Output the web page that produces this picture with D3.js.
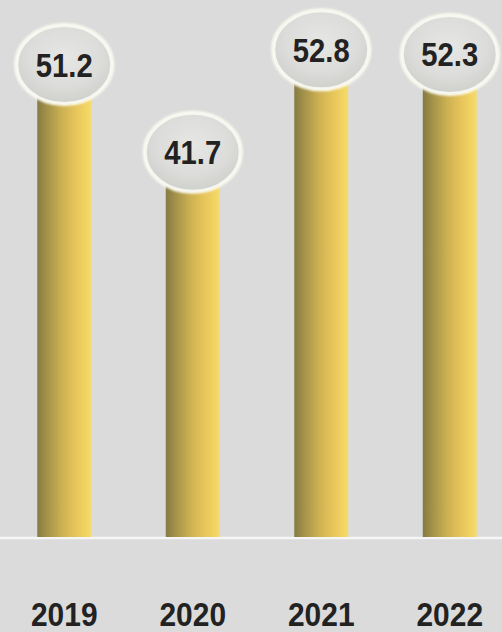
<!DOCTYPE html>
<html>
<head>
<meta charset="utf-8">
<script src="https://cdn.jsdelivr.net/npm/d3@7"></script>
<style>
html,body{margin:0;padding:0;background:#dbdbdb;}
svg{display:block;}
</style>
</head>
<body>
<svg id="chart" width="502" height="632"></svg>
<script>
const categories = ["2019", "2020", "2021", "2022"];
const values = [51.2, 41.7, 52.8, 52.3];
const valueLabels = ["51.2", "41.7", "52.8", "52.3"];

const W = 502, H = 632;
const svg = d3.select("#chart");
const baseY = 537;
const FONT = "'Liberation Sans', Arial, sans-serif";

const x = d3.scaleBand().domain(categories).range([0, 514]).paddingInner(0.58).paddingOuter(0.29);
const y = d3.scaleLinear().domain([0, 58.2]).range([baseY, 0]);

const defs = svg.append("defs");
const bg = defs.append("linearGradient").attr("id", "barGrad").attr("x1", "0%").attr("x2", "100%").attr("y1", "0%").attr("y2", "0%");
[["0%", "#857a42"], ["18%", "#a3924a"], ["45%", "#ccb052"], ["70%", "#e6c45a"], ["90%", "#f2d362"], ["100%", "#f4dc70"]]
  .forEach(([o, c]) => bg.append("stop").attr("offset", o).attr("stop-color", c));

const eg = defs.append("radialGradient").attr("id", "ellGrad").attr("cx", "50%").attr("cy", "40%").attr("r", "60%");
[["0%", "#e6e6e4"], ["65%", "#dcdcda"], ["100%", "#cfd1cc"]]
  .forEach(([o, c]) => eg.append("stop").attr("offset", o).attr("stop-color", c));

const glow = defs.append("filter").attr("id", "glow").attr("x", "-20%").attr("y", "-20%").attr("width", "140%").attr("height", "140%");
glow.append("feGaussianBlur").attr("stdDeviation", 1.2);

svg.append("rect").attr("width", W).attr("height", H).attr("fill", "#dbdbdb");

// baseline
svg.append("line").attr("x1", 0).attr("x2", W).attr("y1", baseY + 1).attr("y2", baseY + 1)
  .attr("stroke", "#f6f6f8").attr("stroke-width", 2.5);

// bars
svg.selectAll("rect.bar").data(values).enter().append("rect")
  .attr("class", "bar")
  .attr("x", (d, i) => x(categories[i]))
  .attr("width", x.bandwidth())
  .attr("y", d => y(d))
  .attr("height", d => baseY - y(d))
  .attr("fill", "url(#barGrad)");

// ellipses
const g = svg.selectAll("g.lab").data(values).enter().append("g").attr("class", "lab")
  .attr("transform", (d, i) => `translate(${x(categories[i]) + x.bandwidth() / 2},${y(d)})`);
g.append("ellipse").attr("rx", 48).attr("ry", 39.5)
  .attr("fill", "none").attr("stroke", "#fbfbf0").attr("stroke-width", 4).attr("filter", "url(#glow)");
g.append("ellipse").attr("rx", 47).attr("ry", 38.5)
  .attr("fill", "url(#ellGrad)").attr("stroke", "#f7f7f2").attr("stroke-width", 2);
g.append("text").attr("text-anchor", "middle")
  .attr("transform", "translate(0,12) scale(0.86,1)")
  .attr("font-family", FONT)
  .attr("font-weight", "bold").attr("font-size", 34).attr("fill", "#222")
  .text((d, i) => valueLabels[i]);

// x axis labels
const xAxis = d3.axisBottom(x).tickSize(0).tickPadding(0);
const ax = svg.append("g").attr("transform", `translate(0,${626})`).call(xAxis);
ax.select(".domain").remove();
ax.selectAll(".tick text")
  .attr("y", 0).attr("dy", 0)
  .attr("transform", "scale(0.88,1)")
  .attr("font-family", FONT)
  .attr("font-weight", "bold").attr("font-size", 34).attr("fill", "#222");
</script>
</body>
</html>
